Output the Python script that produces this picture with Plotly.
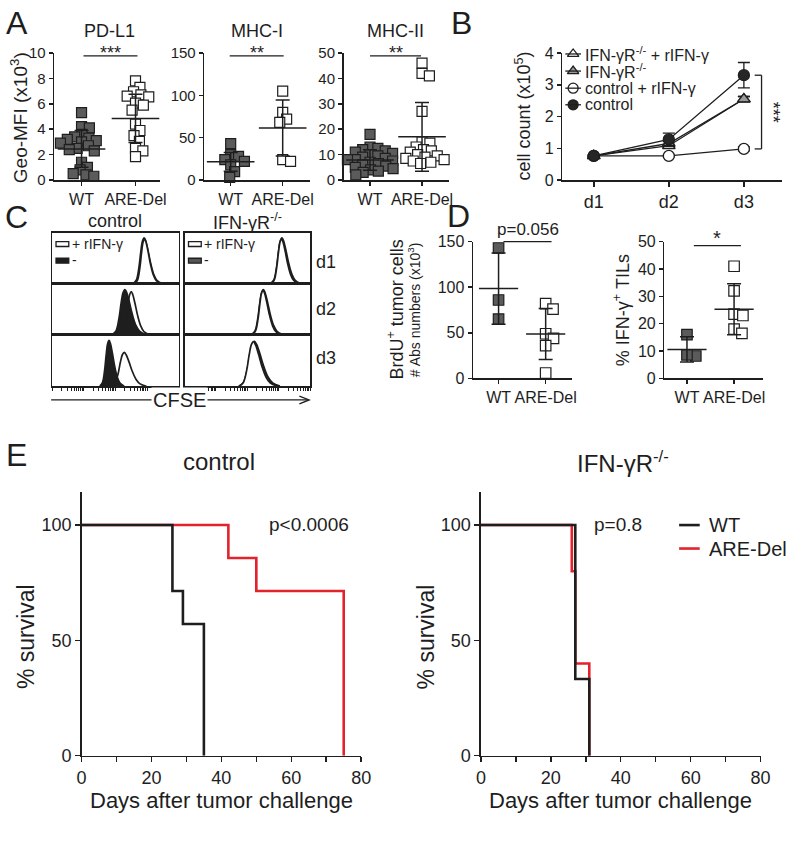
import math
import plotly.graph_objects as go

W, H = 800, 841
FONT = "Liberation Sans, Arial, Helvetica, sans-serif"
INK = "#1e1e1e"
GRAY_FILL = "#5b5b5b"
RED = "#e3232b"

# ---------------- data ----------------
group_labels = ["WT", "ARE-Del"]

# Panel A: Geo-MFI (per mouse)
pdl1_wt = [5.3, 4.2, 4.1, 3.6, 3.4, 3.3, 3.2, 3.1, 3.0, 2.9, 2.7, 2.5, 2.4, 2.3, 1.4, 1.0, 0.8, 0.5, 0.4, 0.3]
pdl1_are = [7.8, 7.3, 6.95, 6.7, 6.6, 6.55, 6.05, 5.9, 5.5, 4.4, 3.9, 3.5, 3.05, 2.5, 2.3, 1.85]
pdl1_mean = [2.45, 4.85]
pdl1_sd = [1.45, 1.9]

mhc1_wt = [43, 30, 28, 24, 22, 18, 10, 3]
mhc1_are = [105, 80, 72, 68, 24, 22]
mhc1_mean = [21.5, 61.5]
mhc1_sd = [11, 33]

mhc2_wt = [18, 13, 12.5, 12, 11.5, 11, 10.5, 10, 9.5, 9, 8.5, 8, 8, 7.5, 7, 6.5, 6, 6, 5.5, 5, 4.5, 4, 3.5, 3, 2]
mhc2_are = [46, 42, 41, 27, 15, 14.5, 13, 12, 11.5, 11, 10, 9.5, 9, 8.5, 8, 7.5, 7, 6.5]
mhc2_mean = [7.9, 17.0]
mhc2_sd = [4.0, 13.5]

# Panel B: cell count (x10^5)
days = ["d1", "d2", "d3"]
cnt_ifnr_rifn = [0.76, 1.08, 2.55]
err_ifnr_rifn = [0.02, 0.05, 0.08]
cnt_ifnr = [0.76, 1.15, 2.55]
err_ifnr = [0.02, 0.08, 0.08]
cnt_ctrl_rifn = [0.76, 0.76, 0.98]
err_ctrl_rifn = [0.02, 0.03, 0.06]
cnt_ctrl = [0.76, 1.28, 3.30]
err_ctrl = [0.03, 0.20, 0.40]

# Panel C: CFSE histograms (peak template + per-curve centre / height / width)
HIST_DX = [-0.085, -0.06, -0.04, -0.025, -0.012, 0.0, 0.012, 0.03, 0.05, 0.075, 0.10, 0.14]
HIST_H = [0.0, 0.08, 0.35, 0.70, 0.93, 1.0, 0.93, 0.72, 0.45, 0.20, 0.07, 0.0]
ctrl_minus_center = [0.727, 0.575, 0.45]
ctrl_minus_height = [0.99, 0.97, 0.97]
ctrl_minus_width = [1.0, 1.15, 0.85]
ctrl_plus_center = [0.73, 0.625, 0.57]
ctrl_plus_height = [0.97, 0.93, 0.72]
ctrl_plus_width = [0.92, 1.0, 1.25]
ifnr_minus_center = [0.775, 0.627, 0.556]
ifnr_minus_height = [0.99, 0.97, 0.95]
ifnr_minus_width = [1.05, 1.08, 1.45]
ifnr_plus_center = [0.772, 0.625, 0.548]
ifnr_plus_height = [0.97, 0.96, 0.95]
ifnr_plus_width = [0.97, 1.0, 1.35]

# Panel D
brdu_wt = [143, 86, 65]
brdu_are = [82, 76, 49, 44, 36, 6]
brdu_mean = [98.5, 48.8]
brdu_sd = [39, 28]
ifng_wt = [16, 8.2, 8.6]
ifng_are = [41, 32, 23.5, 23, 18, 16.5]
ifng_mean = [10.6, 25.3]
ifng_sd = [4.6, 9.3]

# Panel E: Kaplan-Meier (days, % survival)
ctrl_wt_t = [0, 26, 29, 35]
ctrl_wt_s = [100, 71.4, 57.1, 0]
ctrl_are_t = [0, 42, 50, 75]
ctrl_are_s = [100, 85.7, 71.4, 0]
ifnr_wt_t = [0, 27, 31]
ifnr_wt_s = [100, 33.3, 0]
ifnr_are_t = [0, 26, 27, 31]
ifnr_are_s = [100, 80, 40, 0]

# ---------------- helpers ----------------
layout = dict(width=W, height=H, autosize=False, margin=dict(l=0, r=0, t=0, b=0),
              paper_bgcolor="white", plot_bgcolor="rgba(0,0,0,0)", showlegend=False,
              font=dict(family=FONT, color=INK))
traces, shapes, annotations = [], [], []
ax_n = [0]


def X(px):
    return px / W


def Y(py):
    return 1 - py / H


def tf(size):
    return dict(family=FONT, size=size, color=INK)


def new_axes(xpx, ypx, xr, yr, xkw=None, ykw=None):
    ax_n[0] += 1
    n = ax_n[0]
    s = "" if n == 1 else str(n)
    base = dict(showgrid=False, zeroline=False, showline=True, linecolor=INK, linewidth=1.5,
                ticks="outside", tickcolor=INK, tickwidth=1.5, ticklen=4, fixedrange=True,
                tickangle=0, tickfont=tf(16))
    xa = dict(base, domain=[X(xpx[0]), X(xpx[1])], range=xr, anchor="y" + s)
    ya = dict(base, domain=[Y(ypx[1]), Y(ypx[0])], range=yr, anchor="x" + s)
    if xkw:
        xa.update(xkw)
    if ykw:
        ya.update(ykw)
    layout["xaxis" + s] = xa
    layout["yaxis" + s] = ya
    return "x" + s, "y" + s


def text(px, py, s, size, xanchor="center", yanchor="middle", angle=0, bg=None):
    a = dict(x=X(px), y=Y(py), xref="paper", yref="paper", text=s, showarrow=False,
             font=tf(size), xanchor=xanchor, yanchor=yanchor, textangle=angle)
    if bg:
        a["bgcolor"] = bg
    annotations.append(a)


def line(x0, y0, x1, y1, width=1.5, color=INK):
    shapes.append(dict(type="line", xref="paper", yref="paper", x0=X(x0), y0=Y(y0), x1=X(x1), y1=Y(y1),
                       line=dict(color=color, width=width)))


def rect(x0, y0, x1, y1, fill, width=1.3):
    shapes.append(dict(type="rect", xref="paper", yref="paper", x0=X(x0), y0=Y(y0), x1=X(x1), y1=Y(y1),
                       line=dict(color=INK, width=width), fillcolor=fill))


def swarm(values, ppu, diam, step=0.5):
    placed = []
    offs = [0.0] * len(values)
    order = sorted(range(len(values)), key=lambda i: -values[i])
    for i in order:
        yv = values[i] * ppu
        k = 0
        while True:
            cands = [0.0] if k == 0 else [k * step, -k * step]
            found = None
            for c in cands:
                if all((c - px) ** 2 + (yv - py) ** 2 >= diam ** 2 for px, py in placed):
                    found = c
                    break
            if found is not None:
                break
            k += 1
        placed.append((found, yv))
        offs[i] = found
    return offs


def cat_range(x0, x1, c0, c1):
    unit = c1 - c0
    return [-(c0 - x0) / unit, 1 + (x1 - c1) / unit], unit


def dot_panel(xa, ya, data, means, sds, ppu, unit, size, diam, mean_len, cap):
    for gi, vals in enumerate(data):
        offs = swarm(vals, ppu, diam)
        xs = [gi + o / unit for o in offs]
        traces.append(go.Scatter(
            x=xs, y=vals, xaxis=xa, yaxis=ya, mode="markers", cliponaxis=False, hoverinfo="skip",
            marker=dict(symbol="square", size=size, color=GRAY_FILL if gi == 0 else "white",
                        line=dict(color=INK, width=1.2))))
    for gi in range(len(data)):
        traces.append(go.Scatter(
            x=[gi], y=[means[gi]], xaxis=xa, yaxis=ya, mode="markers", cliponaxis=False, hoverinfo="skip",
            marker=dict(symbol="line-ew", size=mean_len, color=INK, line=dict(color=INK, width=1.5)),
            error_y=dict(type="data", array=[sds[gi]], symmetric=True, width=cap, thickness=1.5, color=INK)))


# ---------------- Panel A ----------------
A_TOP, A_BOT = 45, 175
a_specs = [
    ("PD-L1", (50, 158), (78, 133), 10, [0, 2, 4, 6, 8, 10], [pdl1_wt, pdl1_are], pdl1_mean, pdl1_sd,
     "***", (80, 135), 106),
    ("MHC-I", (203, 311), (230, 283), 150, [0, 50, 100, 150], [mhc1_wt, mhc1_are], mhc1_mean, mhc1_sd,
     "**", (229, 284), 257),
    ("MHC-II", (345, 452), (372, 425), 50, [0, 10, 20, 30, 40, 50], [mhc2_wt, mhc2_are], mhc2_mean, mhc2_sd,
     "**", (372, 424), 398),
]
for title, xpx, cpx, ymax, yt, data, means, sds, stars, sig, tx in a_specs:
    xr, unit = cat_range(xpx[0], xpx[1], cpx[0], cpx[1])
    xa, ya = new_axes(xpx, (A_TOP, A_BOT), xr, [0, ymax],
                      xkw=dict(tickvals=[0, 1], ticktext=group_labels, tickfont=tf(16)),
                      ykw=dict(tickvals=yt, tickfont=tf(15)))
    ppu = (A_BOT - A_TOP) / ymax
    dot_panel(xa, ya, data, means, sds, ppu, unit, 10, 7.8, 34, 7)
    text(tx, 22, title, 18)
    line(sig[0], 48, sig[1], 48, 1.3)
    text((sig[0] + sig[1]) / 2, 45, stars, 18)

text(12, 14, "A", 32)
text(15, 111, "Geo-MFI (x10<sup>3</sup>)", 19, angle=-90)

# ---------------- Panel B ----------------
b_series = [
    ("control + rIFN-γ", cnt_ctrl_rifn, err_ctrl_rifn, "circle", "white"),
    ("IFN-γR<sup>-/-</sup> + rIFN-γ", cnt_ifnr_rifn, err_ifnr_rifn, "triangle-up", "white"),
    ("IFN-γR<sup>-/-</sup>", cnt_ifnr, err_ifnr, "triangle-up", "#9a9a9a"),
    ("control", cnt_ctrl, err_ctrl, "circle", "#262626"),
]
day_px = (600, 676, 753)
b_unit = (day_px[2] - day_px[0]) / 2
B_TOP, B_BOT = 45, 175
xb, yb = new_axes((568, 792), (B_TOP, B_BOT), [1 - (day_px[0] - 568) / b_unit, 3 + (792 - day_px[2]) / b_unit],
                  [0, 4],
                  xkw=dict(tickvals=[1, 2, 3], ticktext=days, ticklen=5, tickfont=tf(18)),
                  ykw=dict(tickvals=[0, 1, 2, 3, 4], tickfont=tf(16)))
for name, vals, err, sym, fill in b_series:
    traces.append(go.Scatter(
        x=[1, 2, 3], y=vals, xaxis=xb, yaxis=yb, mode="lines+markers", name=name, cliponaxis=False,
        hoverinfo="skip", line=dict(color=INK, width=1.3),
        marker=dict(symbol=sym, size=11, color=fill, line=dict(color=INK, width=1.3)),
        error_y=dict(type="data", array=err, width=6, thickness=1.3, color=INK)))
text(465, 14, "B", 32)
text(528, 110, "cell count (x10<sup>5</sup>)", 18, angle=-90)
# significance bracket
b_ppu = (B_BOT - B_TOP) / 4
br_top, br_bot = B_BOT - cnt_ctrl[2] * b_ppu, B_BOT - cnt_ctrl_rifn[2] * b_ppu
line(771, br_top, 771, br_bot, 1.3)
line(764, br_top, 771, br_top, 1.3)
line(764, br_bot, 771, br_bot, 1.3)
text(783, (br_top + br_bot) / 2, "***", 18, angle=90)

leg_order = [b_series[1], b_series[2], b_series[0], b_series[3]]
leg_y = [46, 63.5, 81, 98]

# ---------------- Panel C ----------------
c_cols = [(48, 177), (183, 311)]
c_rows = [(229, 281), (281, 333), (333, 386)]
c_ticks = [0.25 * d + 0.25 * math.log10(k) for d in range(4) for k in range(1, 10)] + [1.0]


def peak(center, height, width):
    return [center + d * width for d in HIST_DX], [h * height for h in HIST_H]


c_curves = [
    (ctrl_minus_center, ctrl_minus_height, ctrl_minus_width, ctrl_plus_center, ctrl_plus_height, ctrl_plus_width, INK),
    (ifnr_minus_center, ifnr_minus_height, ifnr_minus_width, ifnr_plus_center, ifnr_plus_height, ifnr_plus_width, "#555555"),
]
for ci, (cx, curves) in enumerate(zip(c_cols, c_curves)):
    mc, mh, mw, pc, ph, pw, mfill = curves
    for ri, ry in enumerate(c_rows):
        bottom = ri == len(c_rows) - 1
        xkw = dict(mirror=True, showticklabels=False, ticks="outside" if bottom else "",
                   tickvals=c_ticks, ticklen=3, tickwidth=1)
        ykw = dict(mirror=True, showticklabels=False, ticks="")
        xa, ya = new_axes(cx, ry, [0, 1], [0, 1.1], xkw=xkw, ykw=ykw)
        xs, ys = peak(mc[ri], mh[ri], mw[ri])
        traces.append(go.Scatter(x=xs, y=ys, xaxis=xa, yaxis=ya, mode="lines", fill="toself",
                                 fillcolor=mfill, line=dict(color=INK, width=2, shape="spline"),
                                 hoverinfo="skip"))
        xs, ys = peak(pc[ri], ph[ri], pw[ri])
        traces.append(go.Scatter(x=xs, y=ys, xaxis=xa, yaxis=ya, mode="lines", fill="toself",
                                 fillcolor="rgba(255,255,255,0.0)" if ci == 0 and ri > 0 else "white",
                                 line=dict(color=INK, width=1.7, shape="spline"), hoverinfo="skip"))

text(12, 213, "C", 32)
text(112, 217, "control", 18)
text(247, 217, "IFN-γR<sup>-/-</sup>", 18)
for lbl, ry in zip(days, (259, 307, 357)):
    text(315, ry, lbl, 18, xanchor="left")
# legends inside top boxes
rect(52, 238, 65, 243, "white")
rect(52, 255, 65, 260, INK)
text(66, 240, "+ rIFN-γ", 14, xanchor="left")
text(66, 257, "-", 14, xanchor="left")
rect(187, 238, 200, 243, "white")
rect(187, 255, 200, 260, "#555555")
text(201, 240, "+ rIFN-γ", 14, xanchor="left")
text(201, 257, "-", 14, xanchor="left")
# CFSE axis arrow
line(47, 400, 309, 400, 1.3)
shapes.append(dict(type="path", xref="paper", yref="paper",
                   path="M {} {} L {} {} L {} {}".format(X(300), Y(396), X(310), Y(400), X(300), Y(404)),
                   line=dict(color=INK, width=1.3)))
text(178, 400, "CFSE", 20, bg="white")

# ---------------- Panel D ----------------
D_TOP, D_BOT = 238, 378
d_specs = [
    ((477, 578), (503, 551), 150, [0, 50, 100, 150], [brdu_wt, brdu_are], brdu_mean, brdu_sd),
    ((672, 772), (695, 743), 50, [0, 10, 20, 30, 40, 50], [ifng_wt, ifng_are], ifng_mean, ifng_sd),
]
for xpx, cpx, ymax, yt, data, means, sds in d_specs:
    xr, unit = cat_range(xpx[0], xpx[1], cpx[0], cpx[1])
    xa, ya = new_axes(xpx, (D_TOP, D_BOT), xr, [0, ymax],
                      xkw=dict(tickvals=[0, 1], ticktext=group_labels, tickfont=tf(16)),
                      ykw=dict(tickvals=yt, tickfont=tf(16)))
    dot_panel(xa, ya, data, means, sds, (D_BOT - D_TOP) / ymax, unit, 10.5, 9, 28, 7)

text(462, 212, "D", 32)
text(398, 308, "BrdU<sup>+</sup> tumor cells", 18, angle=-90)
text(417, 308, "# Abs numbers (x10<sup>3</sup>)", 14, angle=-90)
text(628, 308, "% IFN-γ<sup>+</sup> TILs", 18, angle=-90)
text(533, 226, "p=0.056", 17)
line(508, 238, 557, 238, 1.3)
text(726, 234, "*", 20)
line(702, 242, 750, 242, 1.3)

# ---------------- Panel E ----------------
E_TOP, E_BOT = 494, 764
E_100 = 528
e_ymax = 100 * (E_BOT - E_TOP) / (E_BOT - E_100)
e_specs = [
    ((78, 363), [(ctrl_are_t, ctrl_are_s, RED), (ctrl_wt_t, ctrl_wt_s, INK)], "control", 218, "p<0.0006", 310),
    ((485, 770), [(ifnr_are_t, ifnr_are_s, RED), (ifnr_wt_t, ifnr_wt_s, INK)], "IFN-γR<sup>-/-</sup>", 630, "p=0.8", 625),
]
for xpx, curves, title, tx, ptxt, ptx in e_specs:
    xa, ya = new_axes(xpx, (E_TOP, E_BOT), [0, 80], [0, e_ymax],
                      xkw=dict(tickvals=[0, 20, 40, 60, 80], ticklen=5,
                               minor=dict(dtick=10, tick0=0, ticks="outside", ticklen=5, tickwidth=1.5, tickcolor=INK),
                               tickfont=tf(18)),
                      ykw=dict(tickvals=[0, 50, 100], ticklen=5, tickfont=tf(18)))
    for t, s, col in curves:
        traces.append(go.Scatter(x=t, y=s, xaxis=xa, yaxis=ya, mode="lines", cliponaxis=False,
                                 line=dict(color=col, width=2.6, shape="hv"), hoverinfo="skip"))
    text(tx, 463, title, 24)
    text(ptx, E_100 - 1, ptxt, 19)
    text((xpx[0] + xpx[1]) / 2, 810, "Days after tumor challenge", 22)

text(12, 456, "E", 32)
text(22, 642, "% survival", 23, angle=-90)
text(430, 642, "% survival", 23, angle=-90)
line(687, E_100, 708, E_100, 2.6, INK)
line(687, E_100 + 24, 708, E_100 + 24, 2.6, RED)
text(715, E_100, "WT", 20, xanchor="left")
text(715, E_100 + 24, "ARE-Del", 20, xanchor="left")

# ---------------- legend overlay for panel B (pixel axes) ----------------
xo, yo = new_axes((0, W), (0, H), [0, W], [H, 0],
                  xkw=dict(visible=False), ykw=dict(visible=False))
for (name, vals, err, sym, fill), ly in zip(leg_order, leg_y):
    line(571, ly, 587, ly, 1.3)
    traces.append(go.Scatter(x=[579], y=[ly], xaxis=xo, yaxis=yo, mode="markers", hoverinfo="skip",
                             marker=dict(symbol=sym, size=10, color=fill, line=dict(color=INK, width=1.3))))
    text(589, ly, name, 16, xanchor="left")

layout["shapes"] = shapes
layout["annotations"] = annotations
fig = go.Figure(data=traces, layout=layout)
fig.write_html("out.html", config={"displayModeBar": False, "staticPlot": True},
               post_script="document.body.style.margin='0';")
